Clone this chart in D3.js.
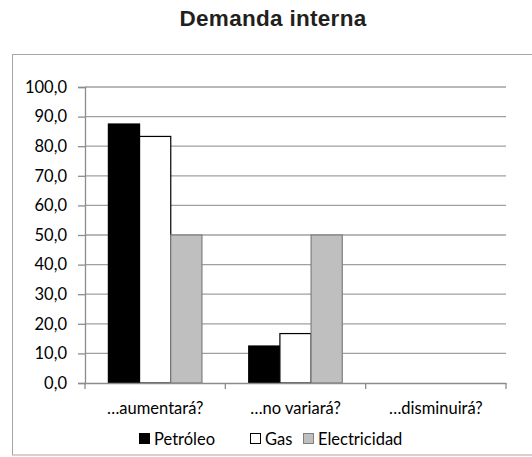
<!DOCTYPE html>
<html><head><meta charset="utf-8">
<script src="https://cdn.jsdelivr.net/npm/d3@7"></script>
<style>body{margin:0;background:#fff}svg{display:block}</style>
</head><body>
<svg id="c" width="532" height="457"></svg>
<script>
const title = "Demanda interna";
const categories = ["…aumentará?", "…no variará?", "…disminuirá?"];
const seriesNames = ["Petróleo", "Gas", "Electricidad"];
const petroleo = [87.5, 12.5, 0];
const gas = [83.3, 16.7, 0];
const electricidad = [50, 50, 0];
const yTicks = [0, 10, 20, 30, 40, 50, 60, 70, 80, 90, 100];
const fills = ["#000000", "#ffffff", "#bfbfbf"];
const strokes = ["#000000", "#000000", "#7f7f7f"];

(function () {
const seriesValues = [petroleo, gas, electricidad];
const svg = d3.select("#c");
const font = "Lato, 'Open Sans', sans-serif";
const fs = 16.5;

// outer frame
svg.append("rect").attr("x", 12.5).attr("y", 54.5).attr("width", 530).attr("height", 400.5)
  .attr("fill", "none").attr("stroke", "#a6a6a6").attr("stroke-width", 1);

svg.append("text").attr("x", 273).attr("y", 26).attr("text-anchor", "middle")
  .attr("font-family", "'Liberation Sans', Arial, sans-serif").attr("font-weight", "bold")
  .attr("font-size", 22.5).attr("letter-spacing", 0.3).attr("fill", "#231f20").text(title);

const pLeft = 85, pRight = 506, pTop = 87, pBottom = 383;
const x0 = d3.scaleBand().domain(categories).range([pLeft, pRight]).padding(0);
// Excel gap width 150%: band = 3w + 1.5w
const bw = x0.bandwidth() / 4.5;
const xs = d3.scaleBand().domain(seriesNames).range([bw * 0.75, bw * 3.75]).padding(0);
const y = d3.scaleLinear().domain([0, 100]).range([pBottom, pTop]);

// gridlines
svg.append("g").selectAll("line").data(yTicks.slice(1)).join("line")
  .attr("x1", pLeft).attr("x2", pRight).attr("y1", d => y(d)).attr("y2", d => y(d))
  .attr("stroke", "#a0a0a0").attr("stroke-width", 1.3);

// y axis
const yAxis = svg.append("g").attr("transform", `translate(${pLeft},0)`)
  .call(d3.axisLeft(y).tickValues(yTicks).tickSize(7).tickPadding(11)
    .tickFormat(d => d3.format(".1f")(d).replace(".", ",")));
yAxis.select(".domain").attr("stroke", "#8c8c8c").attr("stroke-width", 1.3);
yAxis.selectAll(".tick line").attr("stroke", "#8c8c8c").attr("stroke-width", 1.3);
yAxis.selectAll("text").attr("font-family", font).attr("font-size", fs).attr("fill", "#000");

// bars
const g = svg.append("g");
seriesNames.forEach((s, si) => {
  g.append("g").selectAll("rect").data(categories.map((c, ci) => ({c, v: seriesValues[si][ci]})))
    .join("rect")
    .attr("x", d => x0(d.c) + xs(s))
    .attr("y", d => y(d.v))
    .attr("width", xs.bandwidth())
    .attr("height", d => y(0) - y(d.v))
    .attr("fill", fills[si])
    .attr("stroke", d => d.v > 0 ? strokes[si] : "none")
    .attr("stroke-width", 1.2);
});

// x axis
const xAxis = svg.append("g").attr("transform", `translate(0,${pBottom})`)
  .call(d3.axisBottom(x0).tickSize(0).tickPadding(19));
xAxis.select(".domain").attr("stroke", "#8c8c8c").attr("stroke-width", 1.3);
xAxis.selectAll("text").attr("font-family", font).attr("font-size", fs).attr("fill", "#000");
svg.append("g").selectAll("line").data([pLeft, ...categories.map(c => x0(c) + x0.bandwidth())]).join("line")
  .attr("x1", d => d).attr("x2", d => d).attr("y1", pBottom).attr("y2", pBottom + 6)
  .attr("stroke", "#8c8c8c").attr("stroke-width", 1.3);

// legend
const legX = [139, 250, 303];
const lg = svg.append("g");
seriesNames.forEach((s, i) => {
  lg.append("rect").attr("x", legX[i] + 0.5).attr("y", 433.5).attr("width", 10).attr("height", 10)
    .attr("fill", fills[i]).attr("stroke", strokes[i]).attr("stroke-width", 1);
  lg.append("text").attr("x", legX[i] + 15).attr("y", 445).attr("font-family", font)
    .attr("font-size", fs).attr("fill", "#000").text(s);
});
})();
</script>
</body></html>
